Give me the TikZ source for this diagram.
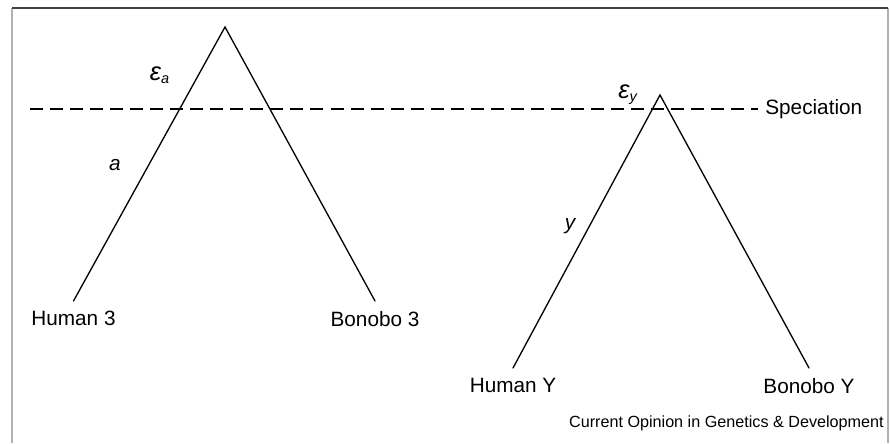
\documentclass[tikz,border=0pt]{standalone}
\usepackage{fontspec}
\setmainfont{Liberation Sans}
\usetikzlibrary{positioning}

\newcommand{\bigeps}{{\fontsize{14.5}{16}\selectfont ε}}

\begin{document}
\begin{tikzpicture}[
    branch/.style={line width=0.75pt, line cap=round},
    leafLabel/.style={font=\fontsize{11.8}{14}\selectfont, inner sep=0pt, anchor=north},
    edgeLabel/.style={font=\fontsize{11.8}{14}\selectfont\itshape, inner sep=0pt}
]
    \useasboundingbox (0,0) rectangle (17.82,8.86);

    % Frame
    \draw[gray!60, line width=1.1pt] (0.24,0) -- (0.24,8.7);
    \draw[gray!60, line width=1.1pt] (17.76,0) -- (17.76,8.7);
    \draw[black!75, line width=0.8pt] (0.24,8.7) -- (17.76,8.7);

    % Gene trees
    \coordinate (rootA) at (4.5, 8.32);
    \coordinate (hum3) at (1.47, 2.84);
    \coordinate (bon3) at (7.5, 2.84);
    \coordinate (rootY) at (13.2, 6.96);
    \coordinate (humY) at (10.26, 1.5);
    \coordinate (bonY) at (16.18, 1.5);

    \draw[branch] (hum3) -- (rootA) -- (bon3);
    \draw[branch] (humY) -- (rootY) -- (bonY);

    % Speciation line
    \node[font=\fontsize{11.8}{14}\selectfont, anchor=west, inner sep=0pt] (spec) at (15.3, 6.68) {Speciation};
    \coordinate (specStart) at (0.6, 6.68);
    \draw[line width=0.7pt, dash pattern=on 7.4pt off 4pt] (specStart) -- ([xshift=-0.14cm]spec.west);

    % Leaf labels
    \node[leafLabel, below=0.2cm of hum3] (hum3Lbl) {Human 3};
    \node[leafLabel, below=0.2cm of bon3] (bon3Lbl) {Bonobo 3};
    \node[leafLabel, below=0.2cm of humY] (humYLbl) {Human Y};
    \node[leafLabel, below=0.2cm of bonY] (bonYLbl) {Bonobo Y};

    % Branch labels
    \node[edgeLabel] (epsA) at (3.2, 7.36) {\bigeps\textsubscript{a}};
    \node[edgeLabel] (lenA) at (2.3, 5.56) {a};
    \node[edgeLabel] (lenY) at (11.4, 4.34) {y};
    \node[edgeLabel] (epsY) at (12.56, 6.96) {\bigeps\textsubscript{y}};

    % Source
    \node[font=\fontsize{9.2}{11}\selectfont, anchor=east, inner sep=0pt] (src) at (17.68, 0.4) {Current Opinion in Genetics \& Development};

\end{tikzpicture}
\end{document}
